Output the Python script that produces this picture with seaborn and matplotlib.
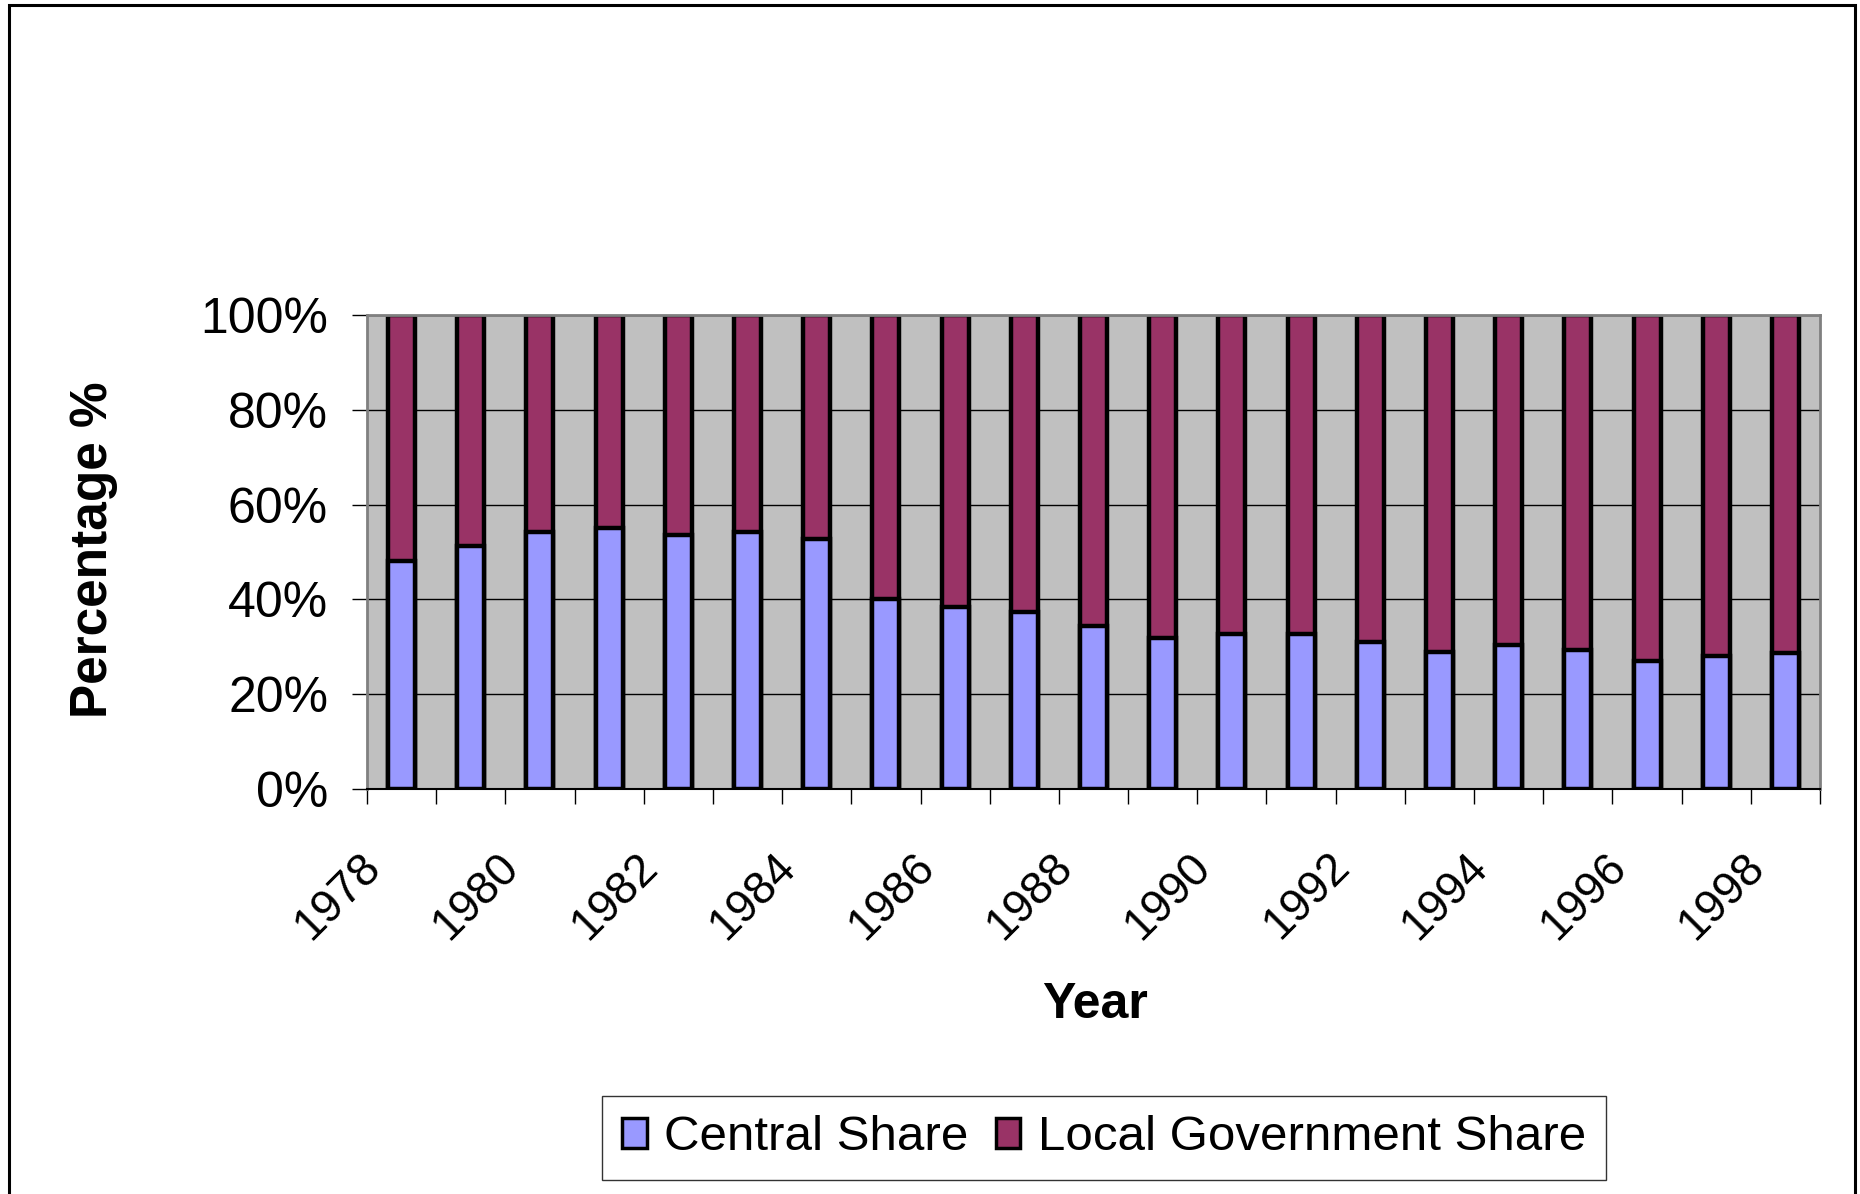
import numpy as np
import pandas as pd
import seaborn as sns
import matplotlib.pyplot as plt
import matplotlib.transforms as mtransforms
from matplotlib.patches import Patch, Rectangle
from matplotlib.ticker import PercentFormatter

# Data (central share in %, local = remainder)
years = list(range(1978, 1999))
central_share = [48.0, 51.2, 54.3, 55.1, 53.6, 54.3, 52.7, 40.0, 38.3, 37.4, 34.3,
                 31.9, 32.8, 32.8, 31.1, 28.8, 30.4, 29.4, 27.1, 28.0, 28.7]
local_share = [round(100 - c, 1) for c in central_share]

central_color = '#9999FF'
local_color = '#993366'

df = pd.DataFrame({'Year': [str(y) for y in years],
                   'Central': central_share,
                   'Local': local_share})
df['Total'] = df['Central'] + df['Local']

sns.set_style('white')
plt.rcParams['font.family'] = ['Liberation Sans', 'DejaVu Sans']
plt.rcParams.update({'text.color': 'black', 'xtick.color': 'black',
                     'ytick.color': 'black', 'axes.labelcolor': 'black'})

fig = plt.figure(figsize=(18.6, 11.94), dpi=100)
ax = fig.add_axes([367 / 1860, 1 - 789 / 1194, (1820 - 367) / 1860, (789 - 315) / 1194])

# stacked bars: draw the full column first, then the central share on top
sns.barplot(data=df, x='Year', y='Total', color=local_color, saturation=1, width=0.39,
            edgecolor='black', linewidth=3.2, errorbar=None, ax=ax)
sns.barplot(data=df, x='Year', y='Central', color=central_color, saturation=1, width=0.39,
            edgecolor='black', linewidth=3.2, errorbar=None, ax=ax)

ax.set_facecolor('#C0C0C0')
ax.set_xlim(-0.5, len(years) - 0.5)
ax.set_ylim(0, 100)
ax.set_yticks(np.arange(0, 101, 20))
ax.yaxis.set_major_formatter(PercentFormatter(decimals=0))
ax.grid(axis='y', color='black', linewidth=1)
ax.grid(axis='x', visible=False)
ax.set_axisbelow(True)

# tick marks between categories, labels every other year
ax.set_xticks(np.arange(-0.5, len(years), 1), minor=True)
ax.set_xticks(np.arange(0, len(years), 2))
ax.set_xticklabels([str(y) for y in years[::2]], rotation=45, ha='right')
ax.tick_params(axis='x', which='major', length=0, pad=40, labelsize=33, bottom=True)
ax.tick_params(axis='x', which='minor', length=11, width=1, color='black', bottom=True)
ax.tick_params(axis='y', length=11, width=1, color='black', pad=17, labelsize=36, left=True)
offset = mtransforms.ScaledTranslation(-0.12, 0, fig.dpi_scale_trans)
for lbl in ax.get_xticklabels():
    lbl.set_transform(lbl.get_transform() + offset)

ax.set_xlabel('')
ax.set_ylabel('')
for side in ['top', 'right', 'left']:
    ax.spines[side].set_color('#808080')
    ax.spines[side].set_linewidth(2)
ax.spines['bottom'].set_color('black')
ax.spines['bottom'].set_linewidth(1.5)

fig.text(94 / 1860, 1 - 550 / 1194, 'Percentage %', rotation=90, ha='center', va='center',
         fontsize=37, fontweight='bold')
fig.text(1095 / 1860, 1 - 1005 / 1194, 'Year', ha='center', va='center',
         fontsize=36, fontweight='bold')

handles = [Patch(facecolor=central_color, edgecolor='black', linewidth=2.5, label='Central Share'),
           Patch(facecolor=local_color, edgecolor='black', linewidth=2.5, label='Local Government Share')]
leg = fig.legend(handles=handles, loc='center', bbox_to_anchor=(1104 / 1860, 1 - 1138 / 1194),
                 ncol=2, fontsize=35.5, frameon=True, fancybox=False, edgecolor='black',
                 handlelength=0.5, handleheight=0.55, handletextpad=0.35, columnspacing=0.55,
                 borderpad=0.4, borderaxespad=0)
leg.get_frame().set_linewidth(1)

# outer chart border
fig.patches.append(Rectangle((9 / 1860, -0.02), (1855 - 9) / 1860, 1 - 5 / 1194 + 0.02,
                             transform=fig.transFigure, fill=False, edgecolor='black',
                             linewidth=2.2, clip_on=False))

fig.savefig('out.png', dpi=100)
